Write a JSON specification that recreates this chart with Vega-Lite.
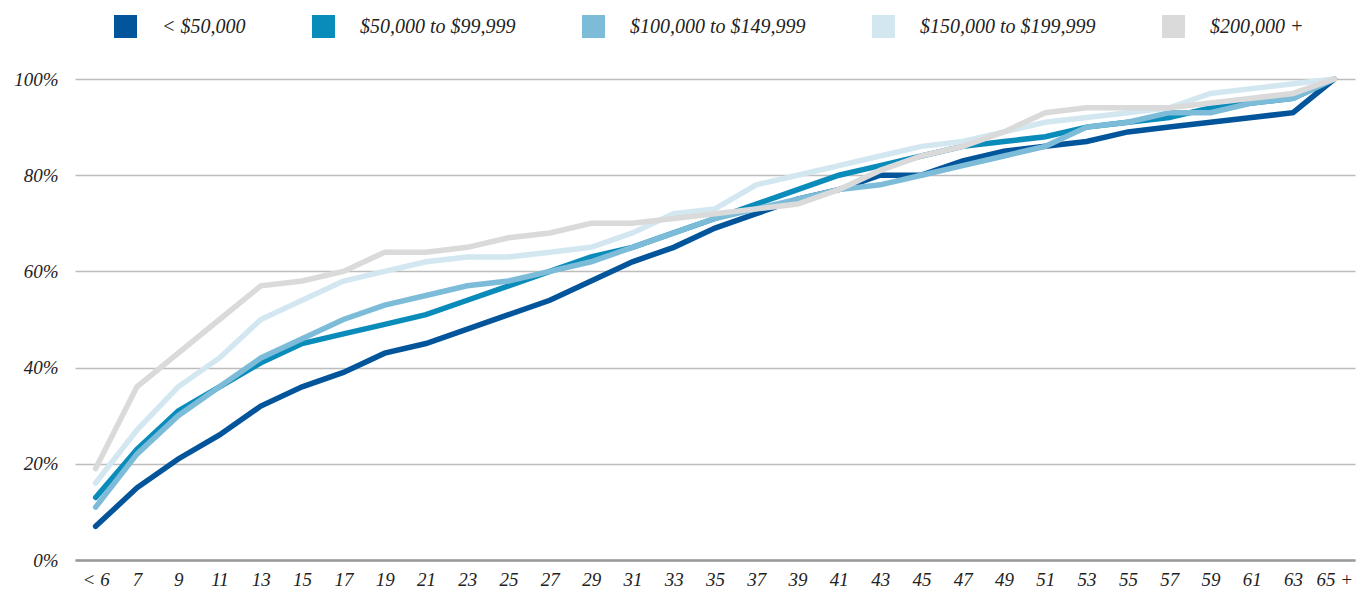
{
  "$schema": "https://vega.github.io/schema/vega-lite/v6.json",
  "width": 1280,
  "height": 481,
  "autosize": {"type": "none"},
  "padding": {"left": 75, "top": 79, "right": 11, "bottom": 31},
  "background": "#ffffff",
  "config": {
    "view": {"stroke": null},
    "font": "Liberation Serif"
  },
  "datasets": {
    "src": [
      {"age":"< 6","g":"< $50,000","v":7},{"age":"7","g":"< $50,000","v":15},{"age":"9","g":"< $50,000","v":21},{"age":"11","g":"< $50,000","v":26},{"age":"13","g":"< $50,000","v":32},{"age":"15","g":"< $50,000","v":36},{"age":"17","g":"< $50,000","v":39},{"age":"19","g":"< $50,000","v":43},{"age":"21","g":"< $50,000","v":45},{"age":"23","g":"< $50,000","v":48},{"age":"25","g":"< $50,000","v":51},{"age":"27","g":"< $50,000","v":54},{"age":"29","g":"< $50,000","v":58},{"age":"31","g":"< $50,000","v":62},{"age":"33","g":"< $50,000","v":65},{"age":"35","g":"< $50,000","v":69},{"age":"37","g":"< $50,000","v":72},{"age":"39","g":"< $50,000","v":75},{"age":"41","g":"< $50,000","v":77},{"age":"43","g":"< $50,000","v":80},{"age":"45","g":"< $50,000","v":80},{"age":"47","g":"< $50,000","v":83},{"age":"49","g":"< $50,000","v":85},{"age":"51","g":"< $50,000","v":86},{"age":"53","g":"< $50,000","v":87},{"age":"55","g":"< $50,000","v":89},{"age":"57","g":"< $50,000","v":90},{"age":"59","g":"< $50,000","v":91},{"age":"61","g":"< $50,000","v":92},{"age":"63","g":"< $50,000","v":93},{"age":"65 +","g":"< $50,000","v":100},
      {"age":"< 6","g":"$50,000 to $99,999","v":13},{"age":"7","g":"$50,000 to $99,999","v":23},{"age":"9","g":"$50,000 to $99,999","v":31},{"age":"11","g":"$50,000 to $99,999","v":36},{"age":"13","g":"$50,000 to $99,999","v":41},{"age":"15","g":"$50,000 to $99,999","v":45},{"age":"17","g":"$50,000 to $99,999","v":47},{"age":"19","g":"$50,000 to $99,999","v":49},{"age":"21","g":"$50,000 to $99,999","v":51},{"age":"23","g":"$50,000 to $99,999","v":54},{"age":"25","g":"$50,000 to $99,999","v":57},{"age":"27","g":"$50,000 to $99,999","v":60},{"age":"29","g":"$50,000 to $99,999","v":63},{"age":"31","g":"$50,000 to $99,999","v":65},{"age":"33","g":"$50,000 to $99,999","v":68},{"age":"35","g":"$50,000 to $99,999","v":71},{"age":"37","g":"$50,000 to $99,999","v":74},{"age":"39","g":"$50,000 to $99,999","v":77},{"age":"41","g":"$50,000 to $99,999","v":80},{"age":"43","g":"$50,000 to $99,999","v":82},{"age":"45","g":"$50,000 to $99,999","v":84},{"age":"47","g":"$50,000 to $99,999","v":86},{"age":"49","g":"$50,000 to $99,999","v":87},{"age":"51","g":"$50,000 to $99,999","v":88},{"age":"53","g":"$50,000 to $99,999","v":90},{"age":"55","g":"$50,000 to $99,999","v":91},{"age":"57","g":"$50,000 to $99,999","v":92},{"age":"59","g":"$50,000 to $99,999","v":94},{"age":"61","g":"$50,000 to $99,999","v":95},{"age":"63","g":"$50,000 to $99,999","v":96},{"age":"65 +","g":"$50,000 to $99,999","v":100},
      {"age":"< 6","g":"$100,000 to $149,999","v":11},{"age":"7","g":"$100,000 to $149,999","v":22},{"age":"9","g":"$100,000 to $149,999","v":30},{"age":"11","g":"$100,000 to $149,999","v":36},{"age":"13","g":"$100,000 to $149,999","v":42},{"age":"15","g":"$100,000 to $149,999","v":46},{"age":"17","g":"$100,000 to $149,999","v":50},{"age":"19","g":"$100,000 to $149,999","v":53},{"age":"21","g":"$100,000 to $149,999","v":55},{"age":"23","g":"$100,000 to $149,999","v":57},{"age":"25","g":"$100,000 to $149,999","v":58},{"age":"27","g":"$100,000 to $149,999","v":60},{"age":"29","g":"$100,000 to $149,999","v":62},{"age":"31","g":"$100,000 to $149,999","v":65},{"age":"33","g":"$100,000 to $149,999","v":68},{"age":"35","g":"$100,000 to $149,999","v":71},{"age":"37","g":"$100,000 to $149,999","v":73},{"age":"39","g":"$100,000 to $149,999","v":75},{"age":"41","g":"$100,000 to $149,999","v":77},{"age":"43","g":"$100,000 to $149,999","v":78},{"age":"45","g":"$100,000 to $149,999","v":80},{"age":"47","g":"$100,000 to $149,999","v":82},{"age":"49","g":"$100,000 to $149,999","v":84},{"age":"51","g":"$100,000 to $149,999","v":86},{"age":"53","g":"$100,000 to $149,999","v":90},{"age":"55","g":"$100,000 to $149,999","v":91},{"age":"57","g":"$100,000 to $149,999","v":93},{"age":"59","g":"$100,000 to $149,999","v":93},{"age":"61","g":"$100,000 to $149,999","v":95},{"age":"63","g":"$100,000 to $149,999","v":96},{"age":"65 +","g":"$100,000 to $149,999","v":100},
      {"age":"< 6","g":"$150,000 to $199,999","v":16},{"age":"7","g":"$150,000 to $199,999","v":27},{"age":"9","g":"$150,000 to $199,999","v":36},{"age":"11","g":"$150,000 to $199,999","v":42},{"age":"13","g":"$150,000 to $199,999","v":50},{"age":"15","g":"$150,000 to $199,999","v":54},{"age":"17","g":"$150,000 to $199,999","v":58},{"age":"19","g":"$150,000 to $199,999","v":60},{"age":"21","g":"$150,000 to $199,999","v":62},{"age":"23","g":"$150,000 to $199,999","v":63},{"age":"25","g":"$150,000 to $199,999","v":63},{"age":"27","g":"$150,000 to $199,999","v":64},{"age":"29","g":"$150,000 to $199,999","v":65},{"age":"31","g":"$150,000 to $199,999","v":68},{"age":"33","g":"$150,000 to $199,999","v":72},{"age":"35","g":"$150,000 to $199,999","v":73},{"age":"37","g":"$150,000 to $199,999","v":78},{"age":"39","g":"$150,000 to $199,999","v":80},{"age":"41","g":"$150,000 to $199,999","v":82},{"age":"43","g":"$150,000 to $199,999","v":84},{"age":"45","g":"$150,000 to $199,999","v":86},{"age":"47","g":"$150,000 to $199,999","v":87},{"age":"49","g":"$150,000 to $199,999","v":89},{"age":"51","g":"$150,000 to $199,999","v":91},{"age":"53","g":"$150,000 to $199,999","v":92},{"age":"55","g":"$150,000 to $199,999","v":93},{"age":"57","g":"$150,000 to $199,999","v":94},{"age":"59","g":"$150,000 to $199,999","v":97},{"age":"61","g":"$150,000 to $199,999","v":98},{"age":"63","g":"$150,000 to $199,999","v":99},{"age":"65 +","g":"$150,000 to $199,999","v":100},
      {"age":"< 6","g":"$200,000 +","v":19},{"age":"7","g":"$200,000 +","v":36},{"age":"9","g":"$200,000 +","v":43},{"age":"11","g":"$200,000 +","v":50},{"age":"13","g":"$200,000 +","v":57},{"age":"15","g":"$200,000 +","v":58},{"age":"17","g":"$200,000 +","v":60},{"age":"19","g":"$200,000 +","v":64},{"age":"21","g":"$200,000 +","v":64},{"age":"23","g":"$200,000 +","v":65},{"age":"25","g":"$200,000 +","v":67},{"age":"27","g":"$200,000 +","v":68},{"age":"29","g":"$200,000 +","v":70},{"age":"31","g":"$200,000 +","v":70},{"age":"33","g":"$200,000 +","v":71},{"age":"35","g":"$200,000 +","v":72},{"age":"37","g":"$200,000 +","v":73},{"age":"39","g":"$200,000 +","v":74},{"age":"41","g":"$200,000 +","v":77},{"age":"43","g":"$200,000 +","v":81},{"age":"45","g":"$200,000 +","v":84},{"age":"47","g":"$200,000 +","v":86},{"age":"49","g":"$200,000 +","v":89},{"age":"51","g":"$200,000 +","v":93},{"age":"53","g":"$200,000 +","v":94},{"age":"55","g":"$200,000 +","v":94},{"age":"57","g":"$200,000 +","v":94},{"age":"59","g":"$200,000 +","v":95},{"age":"61","g":"$200,000 +","v":96},{"age":"63","g":"$200,000 +","v":97},{"age":"65 +","g":"$200,000 +","v":100}
    ]
  },
  "data": {"name": "src"},
  "mark": {"type": "line", "strokeWidth": 5.5, "strokeCap": "round", "strokeJoin": "miter"},
  "encoding": {
    "x": {
      "field": "age",
      "type": "ordinal",
      "sort": null,
      "scale": {"type": "point", "padding": 0.5},
      "axis": {
        "title": null,
        "labelAngle": 0,
        "ticks": false,
        "grid": false,
        "domain": true,
        "domainColor": "#999999",
        "domainWidth": 2.5,
        "labelFont": "Liberation Serif",
        "labelFontStyle": "italic",
        "labelFontSize": 19,
        "labelColor": "#222222",
        "labelPadding": 10
      }
    },
    "y": {
      "field": "v",
      "type": "quantitative",
      "scale": {"domain": [0, 100]},
      "axis": {
        "title": null,
        "values": [0, 20, 40, 60, 80, 100],
        "labelExpr": "datum.value + '%'",
        "ticks": false,
        "domain": false,
        "grid": true,
        "gridColor": "#bdbdbd",
        "gridWidth": 1.5,
        "labelFont": "Liberation Serif",
        "labelFontStyle": "italic",
        "labelFontSize": 19,
        "labelColor": "#222222",
        "labelPadding": 17
      }
    },
    "color": {
      "field": "g",
      "type": "nominal",
      "scale": {
        "domain": ["< $50,000", "$50,000 to $99,999", "$100,000 to $149,999", "$150,000 to $199,999", "$200,000 +"],
        "range": ["#02559a", "#0a8cbb", "#7dbcd9", "#d3e7f1", "#dadada"]
      },
      "legend": {
        "title": null,
        "orient": "none",
        "direction": "horizontal",
        "legendX": 39,
        "legendY": -64,
        "padding": 0,
        "symbolType": "square",
        "symbolSize": 529,
        "symbolStrokeWidth": 0,
        "labelFont": "Liberation Serif",
        "labelFontStyle": "italic",
        "labelFontSize": 20,
        "labelColor": "#222222",
        "labelOffset": 25,
        "columnPadding": 66,
        "labelLimit": 400,
        "encode": {
          "symbols": {
            "update": {
              "fill": {"scale": "color", "field": "value"},
              "fillOpacity": {"value": 1},
              "strokeWidth": {"value": 0}
            }
          }
        }
      }
    }
  }
}
